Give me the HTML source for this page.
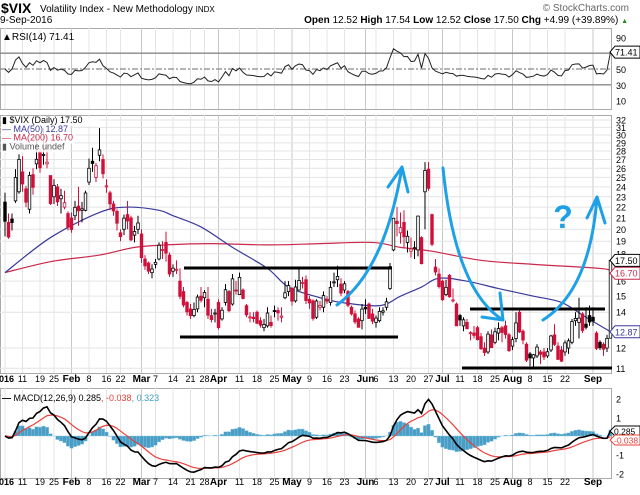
<!DOCTYPE html>
<html><head><meta charset="utf-8"><style>
body{margin:0;background:#fff;width:640px;height:490px;overflow:hidden;font-family:"Liberation Sans",sans-serif}
svg text{font-family:"Liberation Sans",sans-serif}
</style></head><body>
<svg id="c" width="640" height="490" viewBox="0 0 640 490" xmlns="http://www.w3.org/2000/svg">
<g id="hdr">
<text x="1" y="13" font-size="14" font-weight="bold">$VIX</text>
<text x="40" y="12" font-size="10">Volatility Index - New Methodology <tspan font-size="8">INDX</tspan></text>
<text x="0" y="23" font-size="10">9-Sep-2016</text>
<text x="629" y="11" font-size="10" fill="#666" text-anchor="end">© StockCharts.com</text>
<text x="628" y="23" font-size="10" text-anchor="end"><tspan font-weight="bold">Open</tspan> 12.52 <tspan font-weight="bold">High</tspan> 17.54 <tspan font-weight="bold">Low</tspan> 12.52 <tspan font-weight="bold">Close</tspan> 17.50 <tspan font-weight="bold">Chg</tspan> +4.99 (+39.89%) <tspan fill="#2a8a2a" font-size="7">▲</tspan></text>
</g>
<g id="grid"></g>
<g id="rsi"></g>
<g id="main"></g>
<g id="macd"></g>
<g id="ann">
<line x1="184" y1="268" x2="392" y2="268" stroke="#000" stroke-width="3"/>
<line x1="180" y1="337" x2="398" y2="337" stroke="#000" stroke-width="3"/>
<line x1="470" y1="309" x2="605" y2="309" stroke="#000" stroke-width="3"/>
<line x1="462" y1="368" x2="612" y2="368" stroke="#000" stroke-width="3"/>
<g fill="none" stroke="#1ea0e6" stroke-width="3" stroke-linecap="round" stroke-linejoin="round">
<path d="M337,305 Q385,270 402,167 M388,187 L402,167 L408,192"/>
<path d="M443,168 Q455,290 503,320 M482,317 L503,320 L500,293"/>
<path d="M543,320 Q590,290 597,197 M587,218 L597,197 L605,223"/>
</g>
<text x="563" y="228" font-size="32" font-weight="bold" fill="#1ea0e6" text-anchor="middle">?</text>
</g>
</svg>
<script>
const O=[22.48,20.6,20.9,22.6,23.5,25.6,23.8,21.8,25.3,26.5,28.0,27.5,26.5,25.2,23.0,24.0,22.8,22.0,21.4,
21.0,21.2,22.1,21.7,21.7,24.5,26.8,25.0,27.5,27.0,24.0,23.4,22.3,21.6,19.7,20.0,21.3,21.0,19.5,20.0,
19.6,17.6,17.3,16.6,17.2,17.6,18.3,18.9,17.9,16.7,16.8,16.0,15.3,14.6,14.2,13.8,14.2,15.0,14.9,14.8,13.8,13.9,
14.6,13.6,14.6,15.3,14.5,15.4,15.1,15.4,14.4,13.7,13.7,14.0,13.5,13.1,13.2,13.4,14.1,14.1,13.7,14.9,15.3,
15.5,14.7,15.4,15.9,16.1,14.8,14.7,13.7,14.3,14.3,14.8,14.6,15.9,16.1,15.8,15.4,15.3,14.3,13.9,13.6,13.5,
14.3,14.5,13.9,13.4,13.5,14.0,14.3,15.5,18.3,20.7,19.7,20.6,18.9,18.2,18.4,18.3,19.3,23.5,25.9,21.3,17.0,16.5,
16.0,15.1,16.4,14.7,14.5,13.8,13.2,13.4,12.8,12.8,13.1,12.6,12.0,11.8,12.7,12.3,12.8,13.1,13.2,12.7,
12.1,12.5,14.0,12.9,12.2,11.7,11.5,11.6,11.8,11.8,11.6,11.9,12.7,12.1,11.9,11.8,12.0,12.3,13.5,13.4,13.9,13.3,13.8,
13.7,12.8,12.3,12.2,12.0,12.52];
const H=[23.4,21.4,21.4,25.9,27.6,27.4,24.1,25.6,26.0,30.0,28.4,30.9,29.0,25.0,24.8,24.3,23.8,23.6,21.6,
21.5,22.6,24.0,22.5,23.6,27.1,28.4,26.6,30.9,27.6,24.8,23.6,22.6,21.8,20.0,21.3,22.6,21.2,20.3,21.2,
20.0,17.9,17.4,17.2,17.6,18.9,19.0,19.8,18.1,17.2,17.5,16.9,15.6,14.7,14.5,14.6,15.1,15.6,15.4,15.6,14.2,14.2,
14.8,14.3,15.8,15.4,16.5,16.0,16.6,15.5,14.5,14.0,14.0,14.1,13.7,13.6,14.3,13.8,14.4,14.3,14.3,16.0,16.0,
15.6,16.1,16.9,16.3,16.4,15.0,14.8,14.8,14.7,15.3,15.0,16.0,16.6,17.1,16.2,16.0,15.4,14.4,14.1,13.7,14.5,
14.8,14.6,14.2,13.8,14.3,14.3,14.9,17.3,21.0,22.0,21.5,21.7,19.9,19.3,19.0,21.2,19.4,26.7,26.7,21.4,17.6,16.9,
16.1,16.1,16.5,15.5,14.6,13.9,13.7,13.6,12.9,13.2,13.2,12.8,12.3,12.9,13.0,13.1,13.4,13.2,13.5,12.8,
12.6,14.0,14.1,13.0,12.3,11.8,11.7,12.2,11.9,12.0,12.0,12.7,13.3,12.3,12.1,12.4,12.5,13.6,14.0,14.9,14.0,14.3,14.4,
14.3,12.9,12.4,12.3,12.7,17.54];
const L=[19.4,19.2,19.9,22.4,23.3,23.5,22.0,21.4,23.2,25.9,25.5,26.4,26.0,22.2,22.3,22.1,21.4,21.8,19.9,
19.7,20.8,20.3,20.6,21.6,24.2,25.6,24.5,26.8,24.9,23.4,21.7,21.2,19.9,19.0,19.5,20.0,19.0,18.9,19.6,
17.3,16.8,16.5,16.2,16.9,17.5,17.6,17.4,16.3,16.3,16.5,14.8,14.3,13.8,13.6,13.7,14.0,14.6,14.3,13.6,13.4,13.4,
13.0,13.5,14.4,14.0,14.4,15.1,15.1,14.8,13.7,13.4,13.4,13.3,13.1,12.9,13.1,13.1,13.7,13.5,13.4,14.8,15.0,
14.4,14.6,15.4,15.5,14.5,14.2,13.5,13.6,14.1,14.0,14.5,14.4,15.6,15.6,15.0,15.2,14.3,13.8,13.3,13.1,13.0,
13.9,13.6,13.3,13.1,13.4,13.8,14.1,15.4,18.2,19.4,18.8,18.5,18.1,17.7,17.6,17.8,17.2,20.0,23.6,18.6,16.4,15.5,
14.7,15.0,14.9,14.6,13.2,13.2,12.9,13.0,12.4,12.5,12.4,11.9,11.6,11.7,12.0,12.2,12.4,12.3,12.5,11.8,
11.9,12.3,12.8,12.2,11.3,11.1,11.0,11.5,11.2,11.4,11.5,11.8,12.1,11.4,11.3,11.6,11.7,12.2,13.2,12.5,12.8,13.0,13.2,
13.2,11.9,11.9,11.6,11.8,12.52];
const C=[20.70,19.34,20.59,24.99,27.01,24.30,22.47,25.22,23.95,27.02,26.05,27.59,26.69,22.34,24.15,22.50,23.11,22.42,20.20,
19.98,21.98,21.65,21.84,23.38,26.00,26.54,26.29,28.14,25.40,24.11,22.31,21.64,20.53,19.38,20.98,20.72,19.11,19.81,20.55,
17.70,17.09,16.70,16.86,17.35,18.67,18.34,18.05,16.50,16.92,16.84,14.99,14.44,14.02,13.79,14.17,14.94,14.74,15.24,13.82,13.56,13.95,
13.10,14.12,15.42,14.09,16.16,15.36,16.26,14.85,13.84,13.72,13.62,13.35,13.24,13.28,13.95,13.22,14.08,13.96,13.77,15.22,15.70,
14.68,15.60,16.05,15.91,14.72,14.57,13.63,14.69,14.41,15.04,14.68,15.57,15.95,16.33,15.20,15.82,14.42,13.90,13.43,13.12,14.19,
14.20,13.63,13.47,13.65,14.05,14.08,14.64,17.03,20.97,20.50,20.14,19.37,19.41,18.37,18.48,21.17,17.25,25.76,23.85,18.75,16.64,15.63,
14.77,15.58,14.96,14.76,13.20,13.54,13.55,13.04,12.82,12.67,12.44,11.97,11.77,12.74,12.02,12.87,13.05,12.83,12.72,11.87,
12.44,13.37,12.86,12.42,11.39,11.50,11.66,12.05,11.68,11.55,11.81,12.64,12.19,11.43,11.34,12.27,12.38,13.45,13.63,13.65,12.94,13.12,13.42,
13.48,11.98,12.02,11.94,12.51,17.50];
const ma50Idx=[0,13,27,35,44,48,56,65,75,81,90,96,107,113,119,124,132,141,151,159,166,173];
const ma50Val=[16.6,19.3,21.5,22.0,21.7,21.2,20.2,18.5,16.9,15.6,14.9,14.6,14.4,15.0,15.6,16.2,16.0,15.5,15.0,14.6,13.7,12.87];
const ma200Idx=[0,13,27,37,46,59,75,90,105,113,122,136,151,170,173];
const ma200Val=[16.6,17.4,17.9,18.5,18.7,18.8,18.7,18.8,18.9,18.5,18.2,17.5,17.2,16.9,16.70];
const dateLabels=["2016","11","19","25","Feb","8","16","22","Mar","7","14","21","28","Apr","11","18","25","May","9","16","23","Jun","6","13","20","27","Jul","11","18","25","Aug","8","15","22","Sep"];
const dateIdx=[0,5,10,14,19,24,29,33,39,43,48,53,57,61,67,72,77,82,87,92,97,103,106,111,116,121,125,130,135,140,145,150,155,160,168];
const priceTicks=[11,12,14,15,16,18,19,20,21,22,23,24,25,26,27,28,29,30,31,32];
const rsiTicks=[90,50,30,10];
const macdTicks=[2,1,-1,-2];

const NS="http://www.w3.org/2000/svg";
function mk(p,t,a){const e=document.createElementNS(NS,t);for(const k in a)e.setAttribute(k,a[k]);p.appendChild(e);return e;}
const X=i=>5+i*3.5;
const PY=p=>120+(Math.log(32)-Math.log(p))*232.5;
const RY=v=>69-(v-50)*0.79;
const MY=v=>436-v*18.7;
const R=611;
function smooth(pts){let d='M'+pts[0][0]+','+pts[0][1];
 for(let i=0;i<pts.length-1;i++){const p0=pts[i-1]||pts[i],p1=pts[i],p2=pts[i+1],p3=pts[i+2]||p2;
  d+=` C${p1[0]+(p2[0]-p0[0])/6},${p1[1]+(p2[1]-p0[1])/6} ${p2[0]-(p3[0]-p1[0])/6},${p2[1]-(p3[1]-p1[1])/6} ${p2[0]},${p2[1]}`;}
 return d;}
const grid=document.getElementById('grid');
[[28,109],[115,373],[388,478]].forEach((b,k)=>{
 const r=mk(grid,'rect',{x:0.5,y:b[0]+0.5,width:R,height:b[1]-b[0],fill:'#fff',stroke:'#aaa'});
 
 
});
dateIdx.forEach((d,k)=>{
 const bold=isNaN(+dateLabels[k]);
 [[28,109],[115,373],[388,478]].forEach(b=>{
  const l=mk(grid,'line',{x1:X(d),x2:X(d),y1:b[0],y2:b[1],stroke:bold?'#c8c8c8':'#e4e4e4'});
  
  
 });
 [382,485].forEach(yy=>{
  const t=mk(grid,'text',{x:X(d),y:yy,'font-size':bold?10:9,'text-anchor':k==0?'start':'middle','font-weight':bold?'bold':'normal'});
  if(k==0){t.setAttribute('x',-6);t.setAttribute('font-weight','bold');}
  t.textContent=dateLabels[k];
  
  
 });
});
priceTicks.forEach(p=>{
 const l=mk(grid,'line',{x1:0,x2:R,y1:PY(p),y2:PY(p),stroke:'#e4e4e4'});
 
 
 const t=mk(grid,'text',{x:616,y:PY(p)+3.5,'font-size':9});t.textContent=p;
 
 
});
// RSI
const rsiG=document.getElementById('rsi');
rsiTicks.forEach(v=>{const t=mk(rsiG,'text',{x:616,y:RY(v)+4,'font-size':9});t.textContent=v;
 
 });
[[70,''],[30,''],[50,'6,2,2,2']].forEach(a=>{const l=mk(rsiG,'line',{x1:0,x2:R,y1:RY(a[0]),y2:RY(a[0]),stroke:'#888','stroke-width':1.3,'stroke-dasharray':a[1]});
 
 });
let ag=0.6,al=0.6;const rsi=[];
for(let i=0;i<C.length;i++){const ch=i?C[i]-C[i-1]:0;ag=(ag*13+Math.max(ch,0))/14;al=(al*13+Math.max(-ch,0))/14;rsi.push(100-100/(1+ag/al));}
const rl=mk(rsiG,'polyline',{points:rsi.map((v,i)=>X(i)+','+RY(v)).join(' '),fill:'none',stroke:'#222','stroke-width':1});


const rt=mk(rsiG,'text',{x:2,y:40,'font-size':10});rt.textContent='▲RSI(14) '+rsi[rsi.length-1].toFixed(2);


const rtag=mk(rsiG,'path',{d:`M610,${RY(71.41)} l5,-6 h25 v12 h-25 z`,fill:'#fff',stroke:'#000'});


const rtt=mk(rsiG,'text',{x:615,y:RY(71.41)+3.5,'font-size':9});rtt.textContent=rsi[rsi.length-1].toFixed(2);


// main
const mg=document.getElementById('main');
function path(idx,val,col,name){const p=mk(mg,'path',{d:smooth(idx.map((d,k)=>[X(d),PY(val[k])])),fill:'none',stroke:col,'stroke-width':1.2});
 
 }
path(ma200Idx,ma200Val,'#c8284a','ma200-line');
path(ma50Idx,ma50Val,'#3a3a9a','ma50-line');
for(let i=0;i<C.length;i++){
 const up=i==0||C[i]>=C[i-1];const col=up?'#000':'#d0103a';
 const hi=Math.max(H[i],O[i],C[i]),lo=Math.min(L[i],O[i],C[i]);
 const w=mk(mg,'line',{x1:X(i),x2:X(i),y1:PY(hi),y2:PY(lo),stroke:col,'stroke-width':1});
 
 
 const top=PY(Math.max(O[i],C[i])),bot=PY(Math.min(O[i],C[i]));
 const b=mk(mg,'rect',{x:X(i)-1.3,y:top,width:2.6,height:Math.max(bot-top,1),fill:C[i]>O[i]?'#fff':col,stroke:col,'stroke-width':0.8});
 
 
}
function tag(v,y,col,name){const r=mk(mg,'path',{d:`M610,${y} l5,-6 h25 v12 h-25 z`,fill:'#fff',stroke:col});
 
 
 const t=mk(mg,'text',{x:615,y:y+3.5,'font-size':9,fill:col});t.textContent=v;
 
 }
tag(ma200Val[ma200Val.length-1].toFixed(2),PY(ma200Val[ma200Val.length-1])+2,'#c8284a','ma200-value-tag');
tag(C[C.length-1].toFixed(2),PY(C[C.length-1]),'#000','close-value-tag');
tag(ma50Val[ma50Val.length-1].toFixed(2),PY(ma50Val[ma50Val.length-1]),'#3a3a9a','ma50-value-tag');
const lg=[['▮ $VIX (Daily) '+C[C.length-1].toFixed(2),'#000'],['— MA(50) '+ma50Val[ma50Val.length-1].toFixed(2),'#3a3a9a'],['— MA(200) '+ma200Val[ma200Val.length-1].toFixed(2),'#c8284a'],['▮ Volume undef','#555']];
lg.forEach((a,k)=>{const r=mk(mg,'rect',{x:1,y:114+k*8.8+3,width:a[0].length*4.9,height:9,fill:'#fff','fill-opacity':0.85});
 
 
 const t=mk(mg,'text',{x:2,y:123+k*8.8,'font-size':9,fill:a[1]});t.textContent=a[0];
 
 });
// MACD
const gg=document.getElementById('macd');
macdTicks.forEach(v=>{const t=mk(gg,'text',{x:616,y:MY(v)+4,'font-size':9});t.textContent=v;
 
 });
let e12=C[0],e26=C[0],sg=0;const mc=[],sl=[],hist=[];
for(let i=0;i<C.length;i++){e12+=(C[i]-e12)*2/13;e26+=(C[i]-e26)*2/27;const m=e12-e26;sg+=(m-sg)*0.2;mc.push(m);sl.push(sg);hist.push(m-sg);}
hist.forEach((h,i)=>{const y0=MY(0),y1=MY(h);const r=mk(gg,'rect',{x:X(i)-1.75,y:Math.min(y0,y1),width:3.5,height:Math.abs(y1-y0),fill:'#4a9ec6',stroke:'#8cc8e4','stroke-width':0.4});
 
 });
const s1=mk(gg,'polyline',{points:sl.map((v,i)=>X(i)+','+MY(v)).join(' '),fill:'none',stroke:'#e8403a','stroke-width':1.2});


const s2=mk(gg,'polyline',{points:mc.map((v,i)=>X(i)+','+MY(v)).join(' '),fill:'none',stroke:'#000','stroke-width':1.6});


const mt=mk(gg,'text',{x:2,y:401,'font-size':9});
mt.innerHTML='<tspan font-weight="bold">—</tspan> MACD(12,26,9) 0.285<tspan fill="#e8403a">, -0.038</tspan><tspan fill="#3a9ec6">, 0.323</tspan>';


[['0.285',431,'#000'],['-0.038',440,'#e8403a']].forEach(a=>{const r=mk(gg,'path',{d:`M610,${a[1]} l5,-5 h25 v10 h-25 z`,fill:'#fff',stroke:a[2]});
 
 
 const t=mk(gg,'text',{x:614,y:a[1]+3.5,'font-size':8.5,fill:a[2]});t.textContent=a[0];
 
 });
</script>
</body></html>
